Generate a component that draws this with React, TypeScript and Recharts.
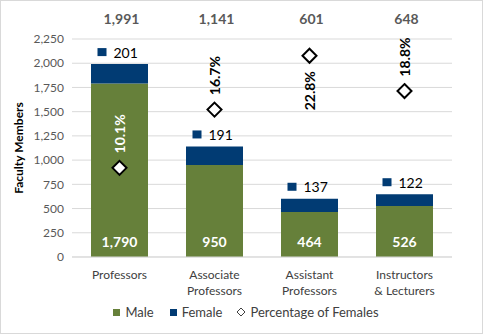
import React from 'react';
import { ComposedChart, Bar, Scatter, XAxis, YAxis, CartesianGrid, Legend, LabelList } from 'recharts';

const categories = ['Professors', 'Associate\nProfessors', 'Assistant\nProfessors', 'Instructors\n& Lecturers'];
const maleValues = [1790, 950, 464, 526];
const femaleValues = [201, 191, 137, 122];
const totalValues = [1991, 1141, 601, 648];
const femalePct = [10.1, 16.7, 22.8, 18.8];
const yTicks = [0, 250, 500, 750, 1000, 1250, 1500, 1750, 2000, 2250];

const data = categories.map((c, i) => ({
  name: c,
  male: maleValues[i],
  female: femaleValues[i],
  total: totalValues[i],
  pct: femalePct[i],
}));

const GREEN = '#66803A';
const NAVY = '#013B73';
const FONT = 'Lato, "Liberation Sans", sans-serif';
const PLOT_TOP = 39;
const PLOT_H = 218;
const Y_MAX = 2250;

const fmt = (v: number) => v.toLocaleString('en-US');

const XTick = (props: any) => {
  const { x, y, payload } = props;
  const lines = String(payload.value).split('\n');
  return (
    <g>
      {lines.map((l: string, i: number) => (
        <text key={i} x={x} y={y + 9 + i * 16} textAnchor="middle" dominantBaseline="central" fontSize={12} fill="#404040" fontFamily={FONT}>
          {l}
        </text>
      ))}
    </g>
  );
};

const Diamond = (props: any) => {
  const { cx, cy, payload } = props;
  const r = 7;
  const above = cy - 54 >= PLOT_TOP - 10;
  const ly = above ? cy - 34 : cy + 35;
  const barTop = PLOT_TOP + PLOT_H * (1 - payload.total / Y_MAX);
  const color = ly > barTop ? '#FFFFFF' : '#000000';
  return (
    <g>
      <polygon
        points={`${cx},${cy - r} ${cx + r},${cy} ${cx},${cy + r} ${cx - r},${cy}`}
        fill="#FFFFFF"
        stroke="#000000"
        strokeWidth={2}
      />
      <text
        x={cx}
        y={ly}
        transform={`rotate(-90, ${cx}, ${ly})`}
        textAnchor="middle"
        dominantBaseline="central"
        fontSize={14}
        fontWeight="bold"
        fill={color}
        fontFamily={FONT}
      >
        {payload.pct.toFixed(1) + '%'}
      </text>
    </g>
  );
};

const FemaleLabel = (props: any) => {
  const { x, y, width, value } = props;
  const cx = x + width / 2;
  const ly = y - 12;
  return (
    <g>
      <rect x={cx - 22} y={ly - 4} width={9} height={8} fill={NAVY} />
      <text x={cx - 6} y={ly} dominantBaseline="central" fontSize={14} fill="#000000" fontFamily={FONT}>
        {fmt(value)}
      </text>
    </g>
  );
};

const TotalLabel = (props: any) => {
  const { x, width, value } = props;
  return (
    <text x={x + width / 2 + 2} y={18} textAnchor="middle" dominantBaseline="central" fontSize={14} fontWeight="bold" fill="#595959" fontFamily={FONT}>
      {fmt(value)}
    </text>
  );
};

const MaleLabel = (props: any) => {
  const { x, y, width, height, value } = props;
  return (
    <text x={x + width / 2} y={y + height - 16} textAnchor="middle" dominantBaseline="central" fontSize={14} fontWeight="bold" fill="#FFFFFF" fontFamily={FONT}>
      {fmt(value)}
    </text>
  );
};

const LegendContent = () => (
  <div style={{ display: 'flex', justifyContent: 'center', alignItems: 'center', fontFamily: FONT, fontSize: 13, color: '#404040', height: 22, paddingLeft: 40 }}>
    <span style={{ display: 'inline-block', width: 7, height: 7, background: GREEN, marginRight: 5 }} />
    <span style={{ marginRight: 16 }}>Male</span>
    <span style={{ display: 'inline-block', width: 7, height: 7, background: NAVY, marginRight: 5 }} />
    <span style={{ marginRight: 14 }}>Female</span>
    <svg width={10} height={10} style={{ marginRight: 4 }}>
      <polygon points="5,1 9,5 5,9 1,5" fill="#fff" stroke="#404040" strokeWidth={1} />
    </svg>
    <span>Percentage of Females</span>
  </div>
);

export default function App() {
  return (
    <div style={{ position: 'absolute', left: 0, top: 0, width: 483, height: 334, border: '1px solid #D9D9D9', boxSizing: 'border-box', background: '#fff' }}>
      <div style={{ position: 'absolute', left: -1, top: -1 }}>
        <ComposedChart
          width={483}
          height={334}
          data={data}
          margin={{ top: 39, right: 31, left: 0, bottom: 11 }}
          barCategoryGap="20%"
          style={{ fontFamily: FONT }}
        >
          <CartesianGrid vertical={false} stroke="#D9D9D9" yAxisId="left" />
          <XAxis dataKey="name" tick={<XTick />} tickLine={false} axisLine={{ stroke: '#D9D9D9' }} height={44} interval={0} />
          <YAxis
            yAxisId="left"
            domain={[0, Y_MAX]}
            ticks={yTicks}
            width={72}
            tickLine={false}
            axisLine={false}
            tickFormatter={(v: number) => fmt(v)}
            tick={{ fontSize: 12, fill: '#595959', fontFamily: FONT }}
            label={{ value: 'Faculty Members', angle: -90, position: 'insideLeft', offset: 19, style: { fontSize: 12, fontWeight: 'bold', fill: '#000', fontFamily: FONT, textAnchor: 'middle' } }}
          />
          <YAxis yAxisId="pct" hide domain={[0, 24.7]} orientation="right" />
          <Bar yAxisId="left" dataKey="male" name="Male" stackId="a" fill={GREEN} isAnimationActive={false}>
            <LabelList dataKey="male" content={<MaleLabel />} />
          </Bar>
          <Bar yAxisId="left" dataKey="female" name="Female" stackId="a" fill={NAVY} isAnimationActive={false}>
            <LabelList dataKey="female" content={<FemaleLabel />} />
            <LabelList dataKey="total" content={<TotalLabel />} />
          </Bar>
          <Scatter yAxisId="pct" dataKey="pct" name="Percentage of Females" shape={<Diamond />} isAnimationActive={false} />
          <Legend verticalAlign="bottom" height={22} content={<LegendContent />} />
        </ComposedChart>
      </div>
    </div>
  );
}
